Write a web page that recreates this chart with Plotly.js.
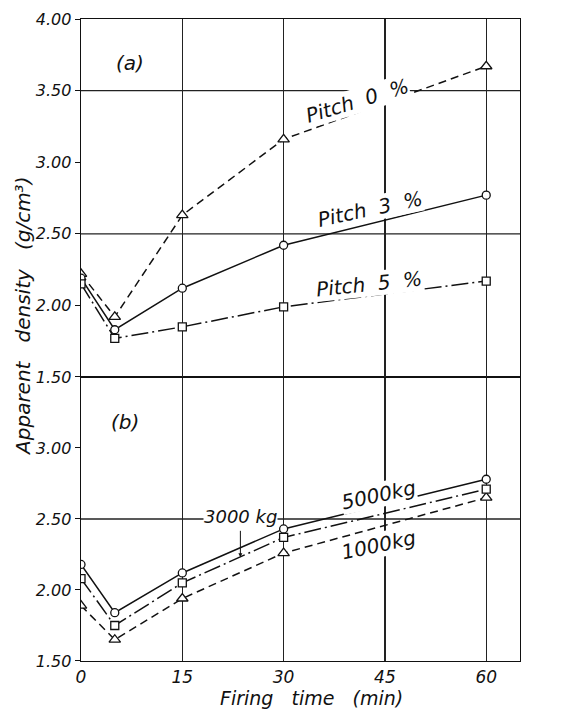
<!DOCTYPE html>
<html>
<head>
<meta charset="utf-8">
<script src="https://cdn.plot.ly/plotly-3.0.1.min.js"></script>
<style>html,body{margin:0;padding:0;background:#fff;}#chart{width:572px;height:709px;}</style>
</head>
<body>
<div id="chart"></div>
<script>
// Firing time (min)
const firingTime = [0, 5, 15, 30, 60];
// Panel (a): pitch content
const pitch0 = [2.22, 1.92, 2.63, 3.16, 3.67];
const pitch3 = [2.19, 1.83, 2.12, 2.42, 2.77];
const pitch5 = [2.15, 1.77, 1.85, 1.99, 2.17];
// Panel (b): moulding pressure
const kg5000 = [2.18, 1.84, 2.12, 2.43, 2.78];
const kg3000 = [2.08, 1.75, 2.05, 2.37, 2.71];
const kg1000 = [1.89, 1.65, 1.94, 2.26, 2.65];
// Ticks
const xTicks = [0, 15, 30, 45, 60];
const yTicksA = [1.5, 2.0, 2.5, 3.0, 3.5, 4.0];
const yTicksB = [1.5, 2.0, 2.5, 3.0];
const gridA = [2.5, 3.5];
const gridB = [2.5];

const FONT = 'DejaVu Sans, Liberation Sans, sans-serif';
const fmt = v => v.toFixed(2);

function tr(y, axis, sym, dash, size) {
  return {
    x: firingTime, y: y, xaxis: axis === 'a' ? 'x2' : 'x', yaxis: axis === 'a' ? 'y2' : 'y',
    mode: 'lines+markers', type: 'scatter', showlegend: false, hoverinfo: 'skip',
    line: {color: '#111', width: 1.5, dash: dash},
    marker: {symbol: sym, size: size, color: '#fff', line: {color: '#111', width: 1.3}}
  };
}

const DASH = '8px,5px';
const DASHDOT = '17px,4px,2px,4px';

const data = [
  tr(pitch0, 'a', 'triangle-up', DASH, 10),
  tr(pitch3, 'a', 'circle', 'solid', 8),
  tr(pitch5, 'a', 'square', DASHDOT, 8),
  tr(kg1000, 'b', 'triangle-up', DASH, 10),
  tr(kg3000, 'b', 'square', DASHDOT, 8),
  tr(kg5000, 'b', 'circle', 'solid', 8)
];

const shapes = [];
gridA.forEach(v => shapes.push({type: 'line', xref: 'paper', x0: 0, x1: 1, yref: 'y2', y0: v, y1: v, layer: 'below', line: {color: '#222', width: 1.3}}));
gridB.forEach(v => shapes.push({type: 'line', xref: 'paper', x0: 0, x1: 1, yref: 'y', y0: v, y1: v, layer: 'below', line: {color: '#222', width: 1.3}}));

const itFont = (s) => ({family: FONT, size: s, color: '#111', style: 'italic'});

function lab(text, xref, yref, x, y, ang, size) {
  return {text: text, xref: xref, yref: yref, x: x, y: y, showarrow: false, textangle: ang,
    font: itFont(size), bgcolor: '#fff', borderpad: 0, xanchor: 'center', yanchor: 'middle'};
}

const annotations = [
  lab('(a)', 'x2', 'y2', 7.3, 3.69, 0, 20),
  lab('(b)', 'x', 'y', 6.5, 3.18, 0, 20),
  lab('Pitch  0  %', 'x2', 'y2', 40.8, 3.43, -17, 20),
  lab('Pitch  3  %', 'x2', 'y2', 42.8, 2.67, -12, 20),
  lab('Pitch  5  %', 'x2', 'y2', 42.6, 2.15, -6, 20),
  lab('3000 kg', 'x', 'y', 23.6, 2.515, 0, 18),
  lab('5000kg', 'x', 'y', 44.0, 2.67, -12, 20),
  lab('1000kg', 'x', 'y', 44.0, 2.32, -12, 20),
  {text: '', xref: 'x', yref: 'y', x: 23.6, y: 2.23, ax: 0, ay: -28, showarrow: true,
   arrowhead: 2, arrowsize: 0.8, arrowwidth: 1, arrowcolor: '#111'},
  {text: 'Apparent   density   (g/cm³)', xref: 'paper', yref: 'paper', x: -0.132, y: 0.536,
   showarrow: false, textangle: -90, font: itFont(20), xanchor: 'center', yanchor: 'middle'},
  {text: 'Firing   time   (min)', xref: 'paper', yref: 'paper', x: 0.525, y: -0.058,
   showarrow: false, font: itFont(19), xanchor: 'center', yanchor: 'middle'}
];

const axisLine = {showline: true, mirror: true, linecolor: '#111', linewidth: 1.4};

const layout = {
  width: 572, height: 709,
  margin: {l: 81, r: 52, t: 19, b: 48},
  paper_bgcolor: '#fff', plot_bgcolor: '#fff',
  font: itFont(16),
  xaxis: Object.assign({domain: [0, 1], anchor: 'y', range: [0, 65], tickvals: xTicks,
    ticktext: xTicks.map(String), ticks: '', showgrid: true, gridcolor: '#222', gridwidth: 1.2,
    zeroline: false, tickfont: itFont(17)}, axisLine),
  xaxis2: Object.assign({domain: [0, 1], anchor: 'y2', matches: 'x', range: [0, 65], tickvals: xTicks,
    showticklabels: false, ticks: '', showgrid: true, gridcolor: '#222', gridwidth: 1.2, zeroline: false}, axisLine),
  yaxis: Object.assign({domain: [0, 0.4424], anchor: 'x', range: [1.5, 3.5], tickvals: yTicksB,
    ticktext: yTicksB.map(fmt), ticks: 'outside', ticklen: 5, tickcolor: '#111', showgrid: false,
    zeroline: false, tickfont: itFont(16)}, axisLine),
  yaxis2: Object.assign({domain: [0.4424, 1], anchor: 'x2', range: [1.5, 4.0], tickvals: yTicksA,
    ticktext: yTicksA.map(fmt), ticks: 'outside', ticklen: 5, tickcolor: '#111', showgrid: false,
    zeroline: false, tickfont: itFont(16)}, axisLine),
  shapes: shapes,
  annotations: annotations
};

Plotly.newPlot('chart', data, layout, {staticPlot: true, displayModeBar: false});
</script>
</body>
</html>
